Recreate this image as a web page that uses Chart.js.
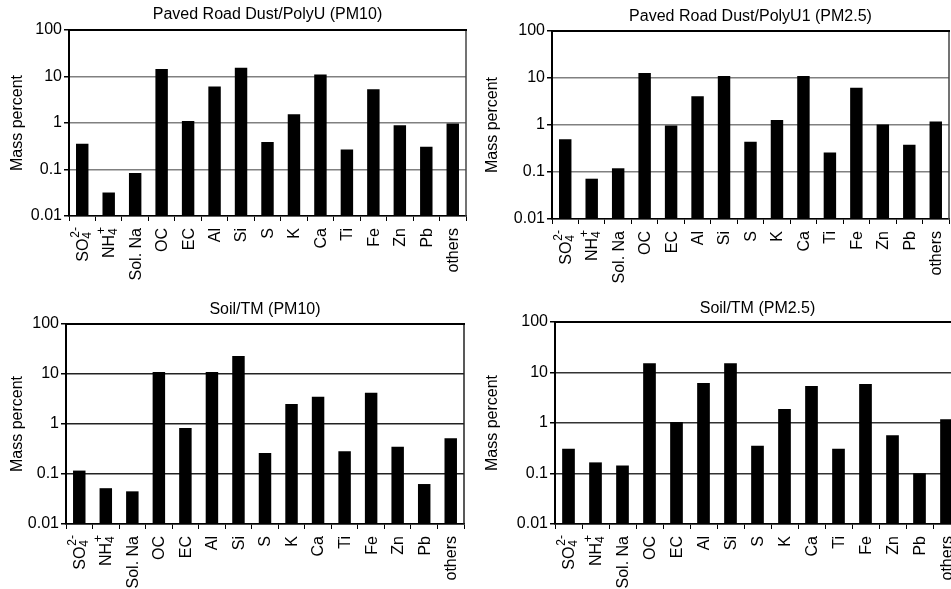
<!DOCTYPE html>
<html><head><meta charset="utf-8">
<script src="https://cdn.jsdelivr.net/npm/chart.js@4"></script>
<style>
html,body{margin:0;padding:0;width:951px;height:589px;overflow:hidden;background:#fff}
.p{position:absolute;overflow:visible}
canvas{display:block}
</style></head><body>
<div class="p" style="left:0;top:0"><canvas id="c1" width="475" height="295"></canvas></div>
<div class="p" style="left:475px;top:0"><canvas id="c2" width="476" height="295"></canvas></div>
<div class="p" style="left:0;top:295px"><canvas id="c3" width="475" height="294"></canvas></div>
<div class="p" style="left:475px;top:295px"><canvas id="c4" width="500" height="294"></canvas></div>
<script>
const categories = ['SO\u2084\u00B2\u207B','NH\u2084\u207A','Sol. Na','OC','EC','Al','Si','S','K','Ca','Ti','Fe','Zn','Pb','others'];
const roadPM10 = [0.36,0.032,0.084,14.5,1.1,6.1,15.5,0.39,1.55,11.0,0.27,5.3,0.89,0.31,0.97];
const roadPM25 = [0.50,0.072,0.12,12.8,0.97,4.1,11.0,0.44,1.28,11.0,0.26,6.2,1.03,0.38,1.18];
const soilPM10 = [0.117,0.052,0.045,11.0,0.83,11.0,23.0,0.263,2.5,3.5,0.284,4.2,0.35,0.063,0.52];
const soilPM25 = [0.31,0.166,0.144,15.3,1.05,6.2,15.3,0.355,1.9,5.4,0.31,5.9,0.57,0.101,1.18];
const yTicks = [0.01,0.1,1,10,100];
const titles = ['Paved Road Dust/PolyU (PM10)','Paved Road Dust/PolyU1 (PM2.5)','Soil/TM (PM10)','Soil/TM (PM2.5)'];
const yTitle = 'Mass percent';

const FONT = '"Liberation Sans", Arial, sans-serif';
Chart.defaults.font.family = FONT;
Chart.defaults.color = '#000';
Chart.defaults.devicePixelRatio = 1;

const SUB = {'\u2080':'0','\u2081':'1','\u2082':'2','\u2083':'3','\u2084':'4','\u2085':'5','\u2086':'6','\u2087':'7','\u2088':'8','\u2089':'9'};
const SUP = {'\u00B2':'2','\u00B3':'3','\u00B9':'1','\u207A':'+','\u207B':'-'};
function parseLabel(str) {
  let base = '', sub = '', sup = '';
  for (const ch of str) {
    if (SUB[ch]) sub += SUB[ch];
    else if (SUP[ch]) sup += SUP[ch];
    else base += ch;
  }
  return { base, sub, sup };
}

const xLabels = {
  id: 'xLabels',
  afterDraw(chart) {
    const { ctx } = chart;
    const s = chart.scales.x;
    ctx.save();
    ctx.fillStyle = '#000';
    ctx.textBaseline = 'middle';
    ctx.textAlign = 'left';
    chart.data.labels.forEach((lab, i) => {
      const x = s.getPixelForTick(i);
      const y = s.top + 12;
      const p = parseLabel(lab);
      ctx.font = '16px ' + FONT;
      const bw = ctx.measureText(p.base).width;
      ctx.font = '12px ' + FONT;
      const sw = p.sub ? ctx.measureText(p.sub).width : 0;
      const pw = p.sup ? ctx.measureText(p.sup).width : 0;
      const total = bw + Math.max(sw, pw);
      ctx.save();
      ctx.translate(x, y);
      ctx.rotate(-Math.PI / 2);
      ctx.font = '16px ' + FONT;
      ctx.fillText(p.base, -total, 1);
      ctx.font = '12px ' + FONT;
      if (p.sub) ctx.fillText(p.sub, -total + bw, 5);
      if (p.sup) ctx.fillText(p.sup, -total + bw + 1, -7);
      ctx.restore();
    });
    ctx.restore();
  }
};

const frame = {
  id: 'frame',
  afterDatasetsDraw(chart, args, opts) {
    const { ctx, chartArea: a } = chart;
    ctx.save();
    ctx.lineWidth = 1.5;
    ctx.strokeStyle = opts.rightColor || '#333';
    ctx.beginPath(); ctx.moveTo(a.right, a.top); ctx.lineTo(a.right, a.bottom); ctx.stroke();
    ctx.strokeStyle = '#000';
    ctx.lineWidth = 2;
    ctx.beginPath(); ctx.moveTo(a.left, a.top); ctx.lineTo(a.right + 1, a.top); ctx.stroke();
    ctx.restore();
  }
};

function makeChart(id, values, title, geo) {
  const cv = document.getElementById(id);
  return new Chart(cv, {
    type: 'bar',
    data: { labels: categories, datasets: [{ data: values, backgroundColor: '#000', borderWidth: 0, barPercentage: 0.47, categoryPercentage: 1 }] },
    options: {
      responsive: false,
      animation: false,
      events: [],
      layout: { padding: { left: 0, right: geo.padRight, top: 0, bottom: 0 } },
      plugins: {
        legend: { display: false },
        tooltip: { enabled: false },
        title: { display: true, text: title, fullSize: false, font: { size: 16, weight: 'normal' }, color: '#000', padding: { top: geo.titleTop, bottom: geo.titleBottom } },
        frame: { rightColor: geo.rightColor }
      },
      scales: {
        x: {
          type: 'category',
          offset: true,
          grid: { display: true, drawOnChartArea: false, drawTicks: true, tickLength: 5, offset: true, color: '#000', lineWidth: 1 },
          border: { display: true, color: '#000', width: 1.5 },
          ticks: { display: false, autoSkip: false },
          afterFit(s) { s.height = geo.xh; }
        },
        y: {
          type: 'logarithmic',
          min: 0.01, max: 100,
          afterBuildTicks(s) { s.ticks = yTicks.map(v => ({ value: v })); },
          grid: { color: geo.gridColor, lineWidth: 1.5, drawTicks: true, tickLength: 5, tickColor: '#000' },
          border: { display: true, color: '#000', width: 2 },
          ticks: { padding: 2, font: { size: 16 }, color: '#000', callback: (v) => String(v) },
          title: { display: true, text: yTitle, font: { size: 16 }, color: '#000', padding: { top: 8, bottom: 0 } },
          afterFit(s) { s.width = geo.yw; }
        }
      }
    },
    plugins: [frame, xLabels]
  });
}

makeChart('c1', roadPM10, titles[0], { yw: 69, xh: 295 - 216, padRight: 475 - 466, titleTop: 5, titleBottom: 5.8, gridColor: '#808080', rightColor: '#444' });
makeChart('c2', roadPM25, titles[1], { yw: 77, xh: 295 - 219, padRight: 2, titleTop: 7, titleBottom: 4.8, gridColor: '#808080', rightColor: '#444' });
makeChart('c3', soilPM10, titles[2], { yw: 66, xh: 294 - 229, padRight: 475 - 464, titleTop: 5, titleBottom: 4.8, gridColor: '#222', rightColor: '#222' });
makeChart('c4', soilPM25, titles[3], { yw: 80, xh: 294 - 229, padRight: 15, titleTop: 4, titleBottom: 3.8, gridColor: '#333', rightColor: '#222' });
</script>
</body></html>
